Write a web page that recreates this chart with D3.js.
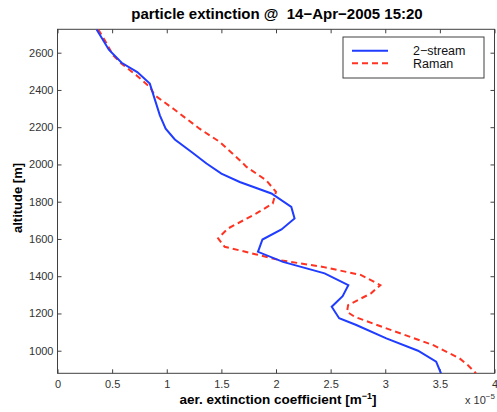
<!DOCTYPE html>
<html>
<head>
<meta charset="utf-8">
<script src="https://cdn.jsdelivr.net/npm/d3@7"></script>
<style>
  body { margin: 0; background: #fff; }
  svg { font-family: "Liberation Sans", Arial, sans-serif; }
</style>
</head>
<body>
<svg id="chart"></svg>
<script>
// extinction values in units of 1e-5 m^-1, altitude in m
const alt2stream = [2725, 2616, 2546, 2496, 2434, 2264, 2192, 2134, 2067, 2005, 1951, 1906, 1844, 1772, 1710, 1651, 1597, 1531, 1477, 1415, 1352, 1293, 1236, 1174, 1138, 1066, 1000, 941, 879];
const ext2stream = [0.358, 0.47, 0.587, 0.73, 0.845, 0.937, 0.99, 1.074, 1.227, 1.364, 1.50, 1.668, 1.958, 2.14, 2.17, 2.05, 1.876, 1.835, 2.064, 2.445, 2.662, 2.61, 2.51, 2.578, 2.735, 3.01, 3.30, 3.466, 3.51];

const altRaman = [2725, 2666, 2585, 2541, 2478, 2416, 2371, 2300, 2192, 2121, 2023, 1987, 1915, 1853, 1790, 1737, 1656, 1603, 1558, 1517, 1486, 1450, 1406, 1352, 1308, 1245, 1209, 1182, 1120, 1031, 959, 923, 879];
const extRaman = [0.373, 0.434, 0.51, 0.587, 0.724, 0.845, 0.891, 1.058, 1.30, 1.485, 1.668, 1.73, 1.91, 2.0, 1.97, 1.82, 1.56, 1.47, 1.53, 1.82, 2.034, 2.43, 2.78, 2.955, 2.87, 2.66, 2.65, 2.72, 3.01, 3.435, 3.68, 3.755, 3.83];

const xTicks = [0, 0.5, 1, 1.5, 2, 2.5, 3, 3.5, 4];
const yTicks = [1000, 1200, 1400, 1600, 1800, 2000, 2200, 2400, 2600];
const seriesNames = ["2\u2212stream", "Raman"];

const W = 497, H = 412;
const pLeft = 57.5, pRight = 494.5, pTop = 29.3, pBottom = 373.3;

var svg = d3.select("#chart").attr("width", W).attr("height", H);

var x = d3.scaleLinear().domain([0, 4]).range([pLeft, pRight]);
var y = d3.scaleLinear().domain([878.7, 2725.6]).range([pBottom, pTop]);

const axisCol = "#404040";

// axes (ticks pointing inwards, box on)
function styleAxis(g) {
  g.select(".domain").remove();
  g.selectAll("line").attr("stroke", axisCol);
  g.selectAll("text").attr("fill", "#333").style("font-size", "11px");
}
var xAx = svg.append("g").attr("transform", "translate(0," + pBottom + ")")
  .call(d3.axisBottom(x).tickValues(xTicks).tickFormat(d3.format("")).tickSizeInner(-4).tickSizeOuter(0).tickPadding(7))
  .call(styleAxis);
// last label sits on the window edge, keep it inside
xAx.selectAll(".tick text").filter(d => d === 4).attr("text-anchor", "end").attr("dx", 3);

svg.append("g").attr("transform", "translate(0," + pTop + ")")
  .call(d3.axisTop(x).tickValues(xTicks).tickFormat("").tickSizeInner(-4).tickSizeOuter(0))
  .call(styleAxis);
svg.append("g").attr("transform", "translate(" + pLeft + ",0)")
  .call(d3.axisLeft(y).tickValues(yTicks).tickFormat(d3.format("d")).tickSizeInner(-4).tickSizeOuter(0).tickPadding(4))
  .call(styleAxis);
svg.append("g").attr("transform", "translate(" + pRight + ",0)")
  .call(d3.axisRight(y).tickValues(yTicks).tickFormat("").tickSizeInner(-4).tickSizeOuter(0))
  .call(styleAxis);

svg.append("rect")
  .attr("x", pLeft).attr("y", pTop)
  .attr("width", pRight - pLeft).attr("height", pBottom - pTop)
  .attr("fill", "none").attr("stroke", axisCol).attr("stroke-width", 1);

// lines
var line = d3.line().x(d => x(d[0])).y(d => y(d[1]));
svg.append("clipPath").attr("id", "clip").append("rect")
  .attr("x", pLeft).attr("y", pTop).attr("width", pRight - pLeft).attr("height", pBottom - pTop);

svg.append("path")
  .datum(extRaman.map((v, i) => [v, altRaman[i]]))
  .attr("d", line)
  .attr("clip-path", "url(#clip)")
  .attr("fill", "none").attr("stroke", "#ff3322").attr("stroke-width", 2)
  .attr("stroke-dasharray", "6,4");
svg.append("path")
  .datum(ext2stream.map((v, i) => [v, alt2stream[i]]))
  .attr("d", line)
  .attr("clip-path", "url(#clip)")
  .attr("fill", "none").attr("stroke", "#1f3cff").attr("stroke-width", 2);

// title and labels
svg.append("text")
  .attr("x", 277).attr("y", 18.5).attr("text-anchor", "middle")
  .style("font-size", "15px").style("font-weight", "bold")
  .text("particle extinction @\u00a0\u00a014\u2212Apr\u22122005 15:20");

var xl = svg.append("text")
  .attr("x", 278).attr("y", 404).attr("text-anchor", "middle")
  .style("font-size", "13.5px").style("font-weight", "bold");
xl.append("tspan").text("aer. extinction coefficient [m");
xl.append("tspan").attr("dy", -5).style("font-size", "9px").text("\u22121");
xl.append("tspan").attr("dy", 5).text("]");

svg.append("text")
  .attr("transform", "translate(22,198) rotate(-90)")
  .attr("text-anchor", "middle")
  .style("font-size", "13px").style("font-weight", "bold")
  .text("altitude [m]");

var ex = svg.append("text")
  .attr("x", 465).attr("y", 404).attr("fill", "#333")
  .style("font-size", "11px");
ex.append("tspan").text("x 10");
ex.append("tspan").attr("dy", -5).style("font-size", "8px").text("\u22125");

// legend
var leg = svg.append("g");
leg.append("rect").attr("x", 343).attr("y", 37).attr("width", 141).attr("height", 41)
  .attr("fill", "#fff").attr("stroke", axisCol);
const legCols = ["#1f3cff", "#ff3322"];
const legDash = [null, "6,4"];
seriesNames.forEach(function(n, i) {
  var yy = 50.7 + i * 12.5;
  leg.append("line").attr("x1", 352).attr("x2", 388).attr("y1", yy).attr("y2", yy)
    .attr("stroke", legCols[i]).attr("stroke-width", 2)
    .attr("stroke-dasharray", legDash[i]);
  leg.append("text").attr("x", 413).attr("y", yy + 4.5)
    .style("font-size", "12.5px").attr("fill", "#111").text(n);
});
</script>
</body>
</html>
